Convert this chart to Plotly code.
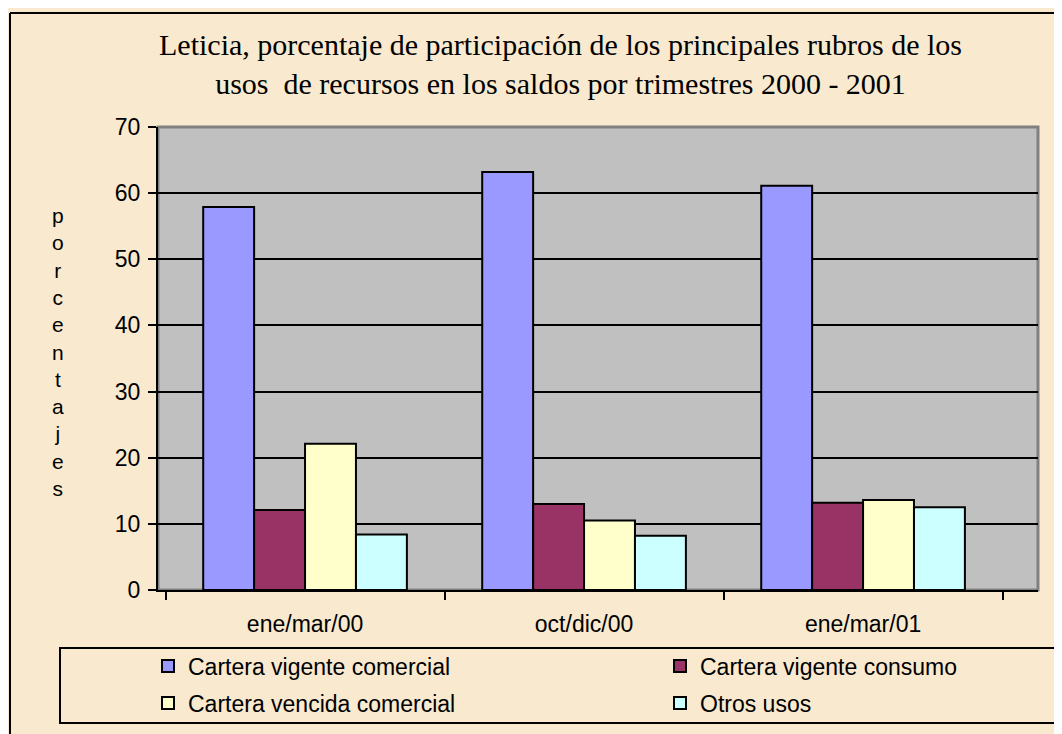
import plotly.graph_objects as go

categories = ["ene/mar/00", "oct/dic/00", "ene/mar/01"]
series_names = ["Cartera vigente comercial", "Cartera vigente consumo",
                "Cartera vencida comercial", "Otros usos"]
vigente_comercial = [57.9, 63.2, 61.1]
vigente_consumo = [12.1, 13.0, 13.2]
vencida_comercial = [22.1, 10.5, 13.6]
otros_usos = [8.4, 8.2, 12.5]
series_values = [vigente_comercial, vigente_consumo, vencida_comercial, otros_usos]
colors = ["#9999FF", "#993366", "#FFFFCC", "#CCFFFF"]
y_ticks = [0, 10, 20, 30, 40, 50, 60, 70]
title_text = ("Leticia, porcentaje de participación de los principales rubros de los<br>"
              "usos  de recursos en los saldos por trimestres 2000 - 2001")
y_title = "porcentajes"

# page body has an 8px margin: the figure starts at (8, 8) in the window
OFF = 8
W, H = 1062 - OFF, 734 - OFF
PL, PR, PT, PB = 158, 1038, 127, 590          # plot area in window pixels
L, R, T, B = PL - OFF, (1062 - PR), PT - OFF, (734 - PB)
PW, PH = W - L - R, H - T - B

def px_x(x):
    return (x - PL) / PW

def px_y(y):
    return (PB - y) / PH

fig = go.Figure()
legend_ids = ["legend", "legend2", "legend3", "legend4"]
for name, vals, col, lg in zip(series_names, series_values, colors, legend_ids):
    fig.add_trace(go.Bar(
        x=categories, y=vals, name=name, legend=lg,
        marker=dict(color=col, line=dict(color="black", width=2)),
        hoverinfo="x+y+name",
    ))

leg_font = dict(family="Liberation Sans, Arial", size=23, color="black")
leg_pos = [(148, 666), (660, 666), (148, 703), (660, 703)]
legends = {}
for lg, (lx, ly) in zip(legend_ids, leg_pos):
    legends[lg] = dict(
        x=(lx - OFF) / W, y=1 - (ly - OFF) / H, xref="container", yref="container",
        xanchor="left", yanchor="middle", bgcolor="rgba(0,0,0,0)",
        borderwidth=0, font=leg_font, itemclick=False,
    )

shapes = [
    dict(type="rect", xref="paper", yref="paper", x0=0, x1=1, y0=0, y1=1,
         line=dict(color="#808080", width=3), layer="below"),
    dict(type="line", xref="paper", yref="paper",
         x0=px_x(10), x1=px_x(10), y0=px_y(13), y1=px_y(760),
         line=dict(color="black", width=2)),
    dict(type="line", xref="paper", yref="paper",
         x0=px_x(10), x1=px_x(1100), y0=px_y(13), y1=px_y(13),
         line=dict(color="black", width=2)),
    dict(type="rect", xref="paper", yref="paper",
         x0=px_x(60), x1=px_x(1100), y0=px_y(648), y1=px_y(723),
         line=dict(color="black", width=2)),
]

annotations = [
    dict(text=title_text, xref="paper", yref="paper",
         x=px_x(560), y=px_y(64), xanchor="center", yanchor="middle",
         showarrow=False, align="center",
         font=dict(family="Liberation Serif, Times New Roman", size=30, color="black")),
    dict(text="<br>".join(list(y_title)), xref="paper", yref="paper",
         x=px_x(58), y=px_y(352), xanchor="center", yanchor="middle",
         showarrow=False, align="center",
         font=dict(family="Liberation Sans, Arial", size=21, color="black")),
]

tick_font = dict(family="Liberation Sans, Arial", size=23, color="black")
fig.update_layout(
    **legends,
    width=W, height=H,
    margin=dict(l=L, r=R, t=T, b=B, pad=0, autoexpand=False),
    paper_bgcolor="#F8E9CF",
    plot_bgcolor="#C0C0C0",
    barmode="group", bargap=0.27, bargroupgap=0,
    xaxis=dict(type="category", range=[-0.527, 2.627], tickson="boundaries",
               ticks="outside", ticklen=8, tickwidth=2, tickcolor="black",
               showline=True, linecolor="black", linewidth=2,
               showgrid=False, ticklabelstandoff=12, tickangle=0,
               tickfont=tick_font),
    yaxis=dict(range=[0, 70], tickvals=y_ticks, ticks="outside", ticklen=8,
               tickwidth=2, tickcolor="black", showline=True, linecolor="black",
               linewidth=2, showgrid=True, gridcolor="black", gridwidth=2,
               zeroline=False, ticklabelstandoff=3,
               tickfont=tick_font),
    shapes=shapes,
    annotations=annotations,
    showlegend=True,
)

fig.write_html("out.html")
